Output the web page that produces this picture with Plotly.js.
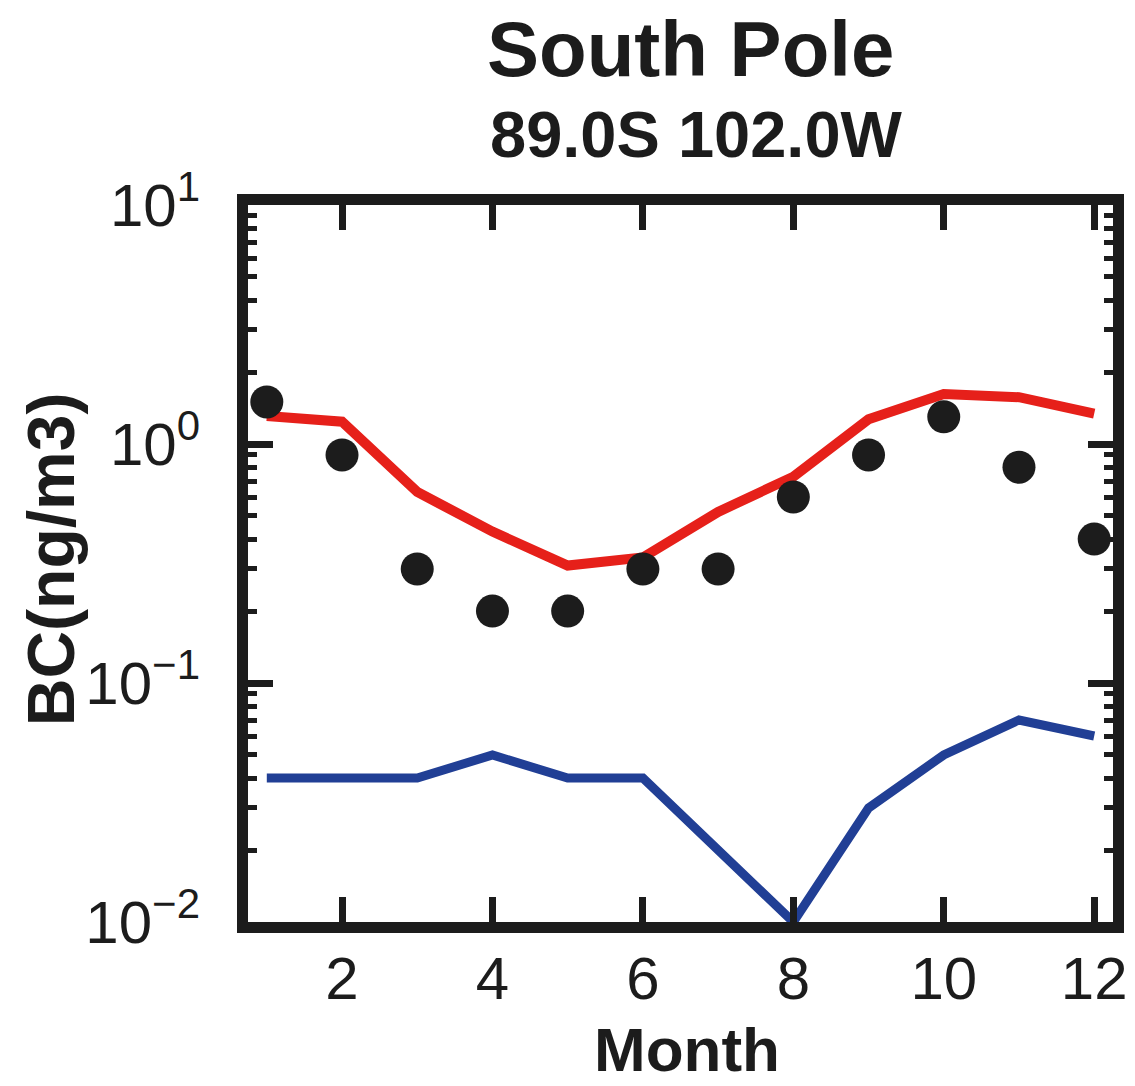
<!DOCTYPE html>
<html>
<head>
<meta charset="utf-8">
<script src="https://cdn.plot.ly/plotly-3.0.1.min.js"></script>
<style>html,body{margin:0;padding:0;background:#fff;}#chart{width:1135px;height:1086px;}</style>
</head>
<body>
<div id="chart"></div>
<script>
const months = [1,2,3,4,5,6,7,8,9,10,11,12];
const observed = [1.5, 0.9, 0.3, 0.2, 0.2, 0.3, 0.3, 0.6, 0.9, 1.3, 0.8, 0.4];
const modelRed = [1.31, 1.24, 0.63, 0.43, 0.31, 0.335, 0.52, 0.73, 1.27, 1.62, 1.57, 1.34];
const modelBlue = [0.04, 0.04, 0.04, 0.05, 0.04, 0.04, 0.02, 0.01, 0.03, 0.05, 0.07, 0.06];
const xTicks = [2,4,6,8,10,12];
const yTickVals = [0.01, 0.1, 1, 10];
const yTickText = ['10<sup>\u22122</sup>', '10<sup>\u22121</sup>', '10<sup>0</sup>', '10<sup>1</sup>'];
const titleText = 'South Pole';
const subtitleText = '89.0S 102.0W';
const xTitle = 'Month';
const yTitle = 'BC(ng/m3)';

const FONT = 'Liberation Sans, Arial, Helvetica, sans-serif';
const INK = '#1c1c1c';

const traces = [
  {x: months, y: modelBlue, mode: 'lines', line: {color: '#213f95', width: 9}, hoverinfo: 'skip'},
  {x: months, y: modelRed, mode: 'lines', line: {color: '#e6201a', width: 10}, hoverinfo: 'skip'},
  {x: months, y: observed, mode: 'markers', marker: {color: INK, size: 33, line: {width: 0}}, hoverinfo: 'skip'}
];

const axisCommon = {
  showline: true, linecolor: INK, linewidth: 11, mirror: 'ticks',
  ticks: 'inside', tickcolor: INK, showgrid: false, zeroline: false,
  tickfont: {family: FONT, size: 60, color: INK}
};

const layout = {
  width: 1135, height: 1086,
  margin: {l: 248, r: 22, t: 205, b: 164},
  paper_bgcolor: '#fff', plot_bgcolor: '#fff',
  showlegend: false,
  xaxis: Object.assign({}, axisCommon, {
    range: [0.75, 12.25], tickmode: 'array', tickvals: xTicks,
    ticklen: 25, tickwidth: 7, ticklabelstandoff: -6
  }),
  yaxis: Object.assign({}, axisCommon, {
    type: 'log', range: [-2, 1], tickmode: 'array', tickvals: yTickVals, ticktext: yTickText,
    ticklen: 25, tickwidth: 7, ticklabelstandoff: 25,
    minor: {ticks: 'inside', ticklen: 9, tickwidth: 5, tickcolor: INK, dtick: 'D1', showgrid: false}
  }),
  annotations: [
    {text: '<b>' + titleText + '</b>', xref: 'paper', yref: 'paper', x: 0.512, y: 1.2176, xanchor: 'center', yanchor: 'middle', showarrow: false, font: {family: FONT, size: 78, color: INK}},
    {text: '<b>' + subtitleText + '</b>', xref: 'paper', yref: 'paper', x: 0.519, y: 1.099, xanchor: 'center', yanchor: 'middle', showarrow: false, font: {family: FONT, size: 65, color: INK}},
    {text: '<b>' + xTitle + '</b>', xref: 'paper', yref: 'paper', x: 0.5075, y: -0.178, xanchor: 'center', yanchor: 'middle', showarrow: false, font: {family: FONT, size: 62, color: INK}},
    {text: '<b>' + yTitle + '</b>', xref: 'paper', yref: 'paper', x: -0.2277, y: 0.506, xanchor: 'center', yanchor: 'middle', textangle: -90, showarrow: false, font: {family: FONT, size: 66, color: INK}}
  ]
};

Plotly.newPlot('chart', traces, layout, {staticPlot: true, displayModeBar: false});
</script>
</body>
</html>
